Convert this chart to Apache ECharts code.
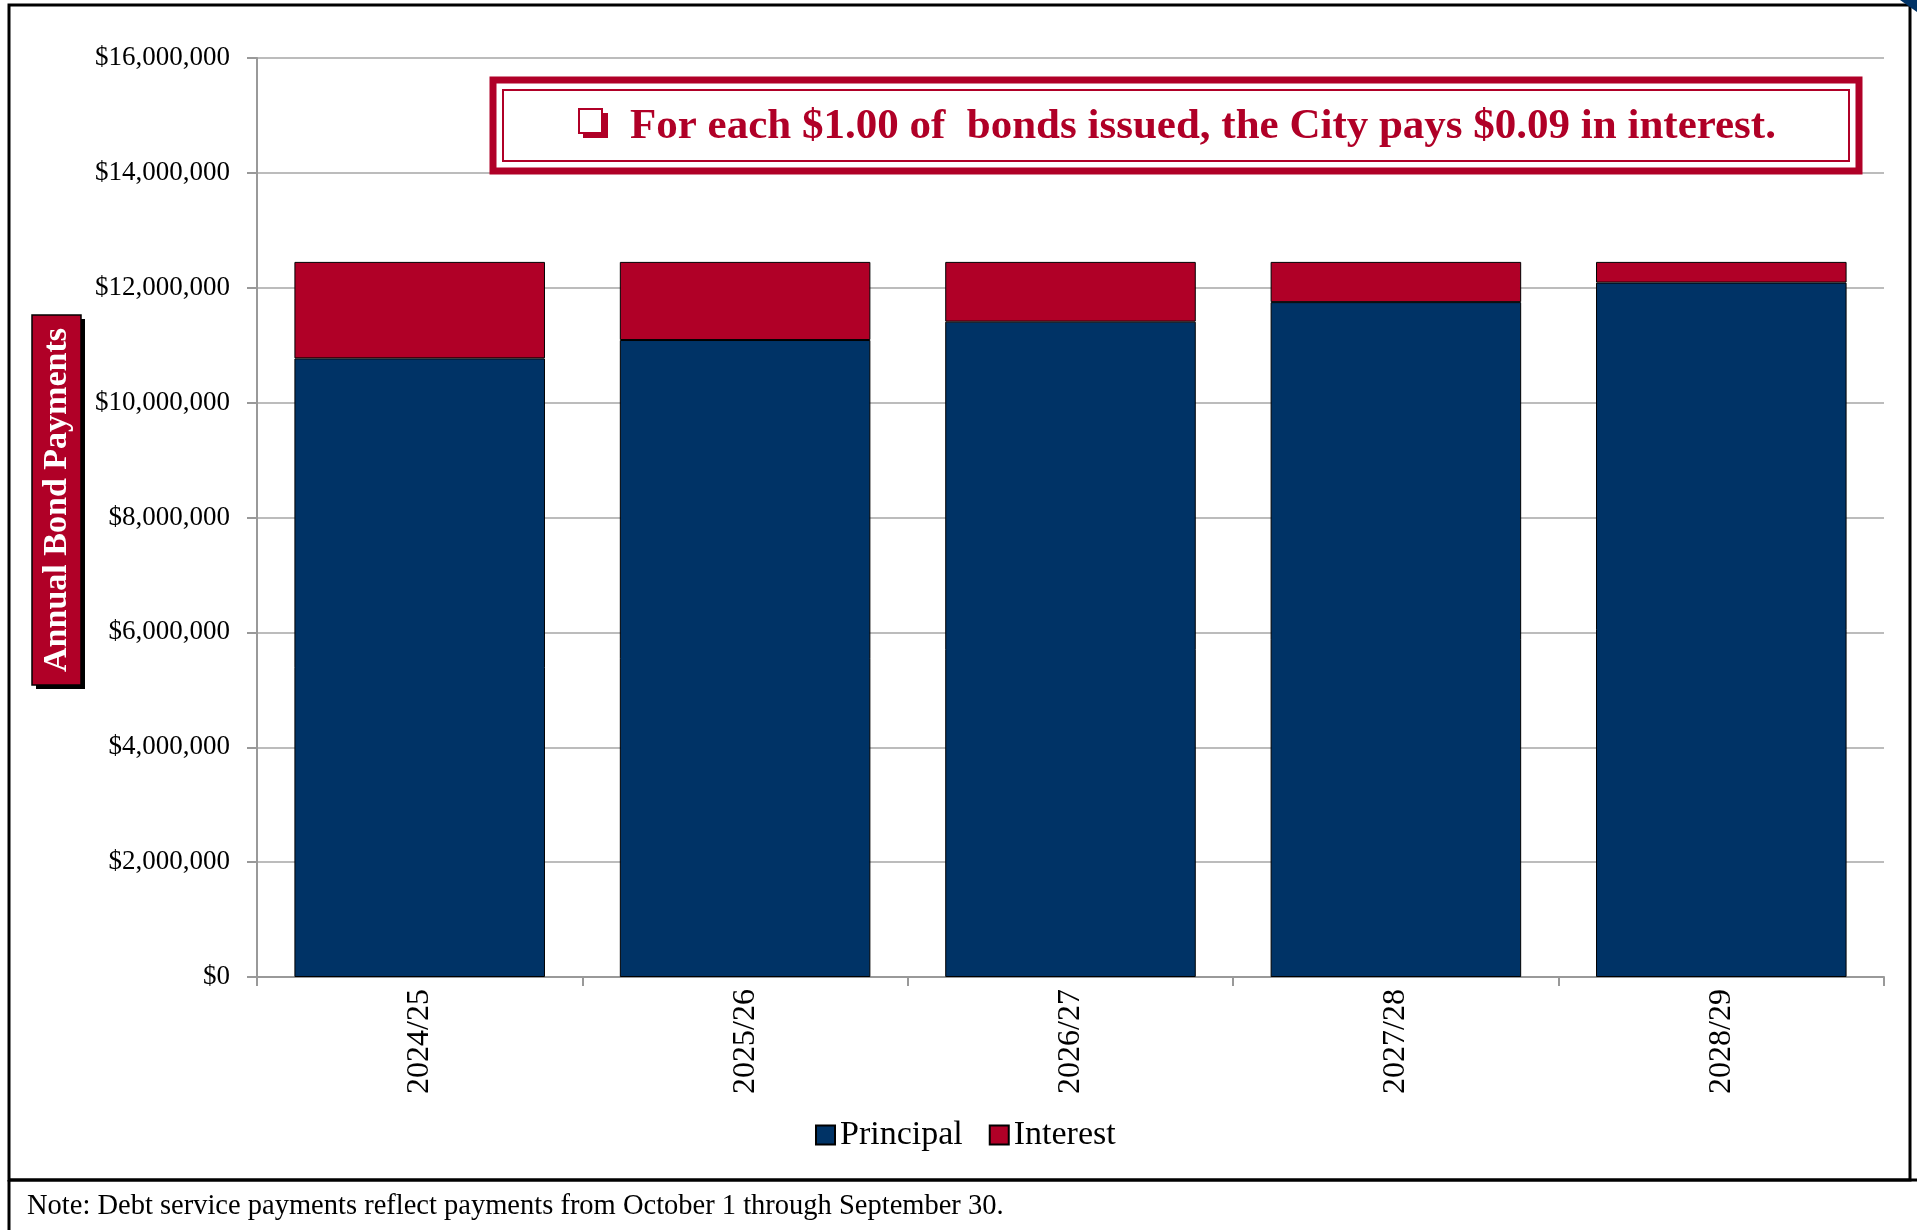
<!DOCTYPE html>
<html>
<head>
<meta charset="utf-8">
<script src="https://cdn.jsdelivr.net/npm/echarts@6/dist/echarts.min.js"></script>
<style>
html,body{margin:0;padding:0;background:#fff;}
#chart{width:1917px;height:1230px;}
</style>
</head>
<body>
<div id="chart"></div>
<script>
const categories = ['2024/25', '2025/26', '2026/27', '2027/28', '2028/29'];
const principal = [10770000, 11090000, 11410000, 11750000, 12090000];
const interest = [1680000, 1360000, 1040000, 700000, 360000];
const seriesNames = ['Principal', 'Interest'];
const yAxisTitle = 'Annual Bond Payments';
const callout = 'For each $1.00 of  bonds issued, the City pays $0.09 in interest.';
const noteText = 'Note: Debt service payments reflect payments from October 1 through September 30.';

const RED = '#b00027';
const BLUE = '#003366';
const FONT = '"Liberation Serif", "DejaVu Serif", serif';

const chart = echarts.init(document.getElementById('chart'), null, {renderer: 'canvas'});

const option = {
  backgroundColor: '#fff',
  animation: false,
  grid: {left: 257, right: 33, top: 58, bottom: 253, containLabel: false},
  legend: {
    data: seriesNames,
    left: 810,
    top: 1113,
    icon: 'rect',
    itemWidth: 19,
    itemHeight: 19,
    itemGap: 26,
    textStyle: {fontFamily: FONT, fontSize: 34, color: '#000'}
  },
  xAxis: {
    type: 'category',
    data: categories,
    axisLine: {lineStyle: {color: '#999', width: 2}},
    axisTick: {show: true, length: 9, lineStyle: {color: '#999', width: 2}},
    axisLabel: {rotate: 90, margin: 12, fontFamily: FONT, fontSize: 32, color: '#000'}
  },
  yAxis: {
    type: 'value',
    min: 0,
    max: 16000000,
    interval: 2000000,
    axisLine: {show: true, lineStyle: {color: '#999', width: 2}},
    axisTick: {show: true, length: 10, lineStyle: {color: '#999', width: 2}},
    splitLine: {show: true, lineStyle: {color: '#a6a6a6', width: 1.5}},
    axisLabel: {
      margin: 27,
      fontFamily: FONT,
      fontSize: 27,
      color: '#000',
      formatter: v => '$' + v.toLocaleString('en-US')
    }
  },
  series: [
    {
      name: seriesNames[0],
      type: 'bar',
      stack: 'total',
      data: principal,
      barCategoryGap: '23%',
      itemStyle: {color: BLUE, borderColor: '#000', borderWidth: 1}
    },
    {
      name: seriesNames[1],
      type: 'bar',
      stack: 'total',
      data: interest,
      barCategoryGap: '23%',
      itemStyle: {color: RED, borderColor: '#000', borderWidth: 1}
    }
  ],
  graphic: [
    // outer frame
    {type: 'rect', z: 100, shape: {x: 9, y: 5, width: 1901, height: 1175},
      style: {fill: 'none', stroke: '#000', lineWidth: 3}},
    {type: 'line', z: 100, shape: {x1: 9, y1: 1180, x2: 1917, y2: 1180},
      style: {stroke: '#000', lineWidth: 3}},
    {type: 'line', z: 100, shape: {x1: 9, y1: 1180, x2: 9, y2: 1230},
      style: {stroke: '#000', lineWidth: 3}},
    {type: 'polygon', z: 100, shape: {points: [[1900, 0], [1917, 0], [1917, 12]]},
      style: {fill: BLUE}},
    // note
    {type: 'text', z: 100, x: 27, y: 1207,
      style: {text: noteText, font: '28.5px ' + FONT, fill: '#000', textVerticalAlign: 'middle'}},
    // y axis title box
    {type: 'rect', z: 100, shape: {x: 36, y: 319, width: 49, height: 370},
      style: {fill: '#000'}},
    {type: 'rect', z: 101, shape: {x: 32, y: 315, width: 49, height: 370},
      style: {fill: RED, stroke: '#000', lineWidth: 1.5}},
    {type: 'text', z: 102, x: 57, y: 500, rotation: Math.PI / 2,
      style: {text: yAxisTitle, font: 'bold 34px ' + FONT, fill: '#fff',
        textAlign: 'center', textVerticalAlign: 'middle'}},
    // callout box
    {type: 'rect', z: 100, shape: {x: 493, y: 80, width: 1366, height: 91},
      style: {fill: '#fff', stroke: RED, lineWidth: 7}},
    {type: 'rect', z: 101, shape: {x: 503, y: 90, width: 1346, height: 71},
      style: {fill: 'none', stroke: RED, lineWidth: 2}},
    // checkbox symbol
    {type: 'rect', z: 101, shape: {x: 583, y: 113, width: 25, height: 25},
      style: {fill: RED}},
    {type: 'rect', z: 102, shape: {x: 579, y: 109, width: 23, height: 24},
      style: {fill: '#fff', stroke: RED, lineWidth: 2}},
    {type: 'text', z: 102, x: 630, y: 127,
      style: {text: callout, font: 'bold 43px ' + FONT, fill: RED, textVerticalAlign: 'middle'}}
  ]
};
chart.setOption(option);
</script>
</body>
</html>
